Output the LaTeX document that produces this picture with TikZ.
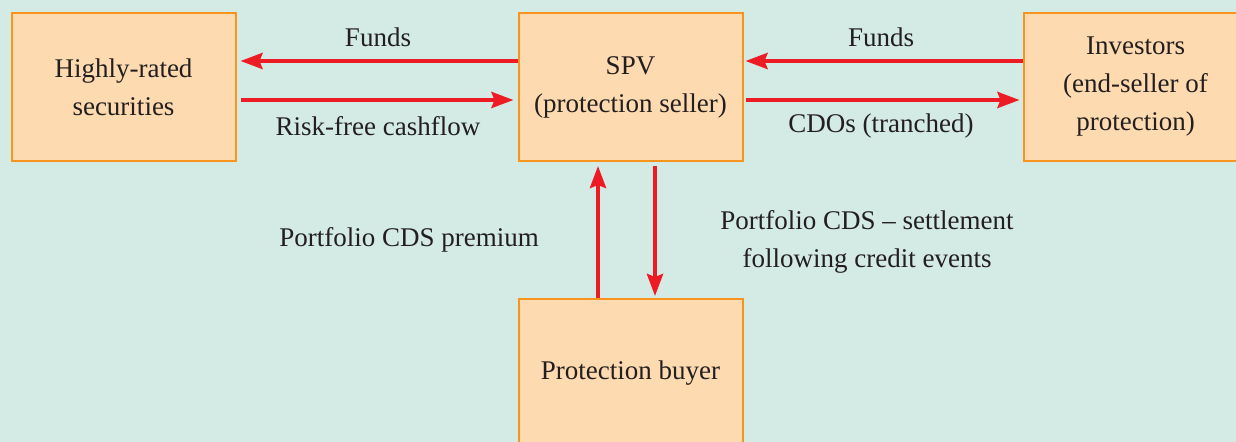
\documentclass[tikz,border=0pt]{standalone}
\usepackage{fontspec}
\setmainfont{Liberation Serif}
\usetikzlibrary{arrows.meta}
\definecolor{bgteal}{HTML}{D4EAE4}
\definecolor{boxfill}{HTML}{FDDAAF}
\definecolor{boxline}{HTML}{F7941D}
\definecolor{flowred}{HTML}{ED1C24}
\definecolor{inkgrey}{HTML}{231F20}
\tikzset{
	party/.style={draw=boxline, line width=1pt, fill=boxfill, minimum width=112pt, minimum height=74pt, align=center, text=inkgrey, font=\fontsize{13.5pt}{19pt}\selectfont},
	flow/.style={draw=flowred, line width=2pt, -{Stealth[length=11pt,width=8pt,inset=1.5pt]}},
	tag/.style={text=inkgrey, align=center, font=\fontsize{13.5pt}{19pt}\selectfont}
}

\begin{document}
\begin{tikzpicture}[x=0.5pt, y=-0.5pt]
			%%%%% START %%%%%
			
			\clip (0, 0) rectangle (1236, 442);
			\fill[bgteal] (0, 0) rectangle (1236, 442);
			
			\node[party] (hrs) at (123.5, 87) {Highly-rated\\securities};
			\node[party] (spv) at (630.5, 87) {SPV\\(protection seller)};
			\node[party] (inv) at (1135.5, 87) {Investors\\(end-seller of\\protection)};
			\node[party] (buyer) at (630.5, 373) {Protection buyer};
			
			\draw[flow, shorten >=2pt] ([yshift=13pt]spv.west) -- ([yshift=13pt]hrs.east);
			\draw[flow, shorten <=2pt, shorten >=2pt] ([yshift=-6.5pt]hrs.east) -- ([yshift=-6.5pt]spv.west);
			\draw[flow, shorten >=1pt] ([yshift=13pt]inv.west) -- ([yshift=13pt]spv.east);
			\draw[flow, shorten <=1pt, shorten >=1.5pt] ([yshift=-6.5pt]spv.east) -- ([yshift=-6.5pt]inv.west);
			
			\draw[flow, shorten >=2pt] ([xshift=-16.25pt]buyer.north) -- ([xshift=-16.25pt]spv.south);
			\draw[flow, shorten <=2pt, shorten >=1pt] ([xshift=12.25pt]spv.south) -- ([xshift=12.25pt]buyer.north);
			
			\node[tag] (fundsl) at (378, 37) {Funds};
			\node[tag] (riskfree) at (378, 126) {Risk-free cashflow};
			\node[tag] (fundsr) at (881, 37) {Funds};
			\node[tag] (cdos) at (881, 126) {CDOs (tranched)};
			\node[tag] (premium) at (409, 240) {Portfolio CDS premium};
			\node[tag] (settle) at (867, 242) {Portfolio CDS -- settlement\\following credit events};
			
			%%%%% END %%%%%
\end{tikzpicture}
\end{document}
